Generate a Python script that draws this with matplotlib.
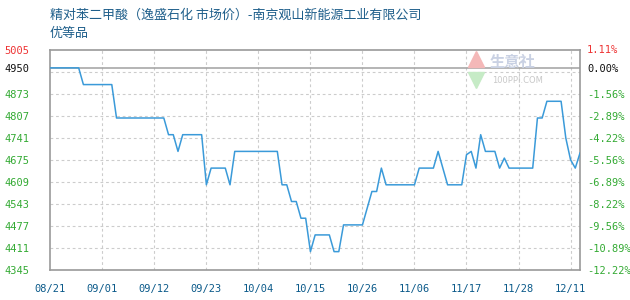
import matplotlib
matplotlib.use("Agg")
import matplotlib.pyplot as plt
import numpy as np

plt.rcParams['font.family'] = ['Noto Sans CJK SC', 'DejaVu Sans']

title_line1 = "精对苯二甲酸（逸盛石化 市场价）-南京观山新能源工业有限公司"
title_line2 = "优等品"

x_tick_labels = ["08/21", "09/01", "09/12", "09/23", "10/04", "10/15",
                 "10/26", "11/06", "11/17", "11/28", "12/11"]
x_tick_days = [0, 11, 22, 33, 44, 55, 66, 77, 88, 99, 110]

y_tick_values = [5005, 4950, 4873, 4807, 4741, 4675, 4609, 4543, 4477, 4411, 4345]
right_tick_labels = ["1.11%", "0.00%", "-1.56%", "-2.89%", "-4.22%", "-5.56%",
                     "-6.89%", "-8.22%", "-9.56%", "-10.89%", "-12.22%"]
base_value = 4950

prices = [4950, 4950, 4950, 4950, 4950, 4950, 4950,
          4900, 4900, 4900, 4900, 4900, 4900, 4900,
          4800, 4800, 4800, 4800, 4800, 4800, 4800, 4800, 4800, 4800, 4800,
          4750, 4750, 4700, 4750, 4750, 4750, 4750, 4750,
          4600, 4650, 4650, 4650, 4650, 4600,
          4700, 4700, 4700, 4700, 4700, 4700, 4700, 4700, 4700, 4700,
          4600, 4600, 4550, 4550, 4500, 4500, 4400,
          4450, 4450, 4450, 4450, 4400, 4400,
          4480, 4480, 4480, 4480, 4480, 4530, 4580, 4580, 4650,
          4600, 4600, 4600, 4600, 4600, 4600, 4600,
          4650, 4650, 4650, 4650, 4700, 4650,
          4600, 4600, 4600, 4600, 4690, 4700, 4650, 4750,
          4700, 4700, 4700, 4650, 4680,
          4650, 4650, 4650, 4650, 4650, 4650,
          4800, 4800, 4850, 4850, 4850, 4850,
          4740, 4675, 4650, 4695]
days = np.arange(len(prices))

fig = plt.figure(figsize=(6.3, 3.0), dpi=100)
ax = fig.add_axes([50.3/630, 1-270/300, (580-50.3)/630, (270-49.5)/300])

grid_color = '#cccccc'
ymin, ymax = y_tick_values[-1], y_tick_values[0]
step = y_tick_values[2] - y_tick_values[3]
for gv in np.arange(ymin + step, ymax, step):
    ax.axhline(gv, color=grid_color, lw=0.8, ls=(0, (2.5, 2.5)), zorder=1)
for xd in x_tick_days[1:]:
    ax.axvline(xd, color=grid_color, lw=0.8, ls=(0, (2.5, 2.5)), zorder=1)
ax.axhline(base_value, color='#a0a0a0', lw=1.1, zorder=1.5)

ax.plot(days, prices, color='#3a9ad9', lw=1.1, zorder=3)

ax.set_xlim(0, len(prices) - 1)
ax.set_ylim(ymin, ymax)

for s in ax.spines.values():
    s.set_color('#9a9a9a')
    s.set_linewidth(1.2)

ax.set_xticks(x_tick_days)
ax.set_xticklabels(x_tick_labels, family='DejaVu Sans Mono', fontsize=7.5, color='#0b5a8a')
ax.tick_params(axis='x', length=0, pad=10)

left_colors = ['#ee3333', '#111111'] + ['#33aa33'] * (len(y_tick_values) - 2)
ax.set_yticks(y_tick_values)
ax.set_yticklabels([str(v) for v in y_tick_values], family='DejaVu Sans Mono', fontsize=7.5)
for lbl, c in zip(ax.get_yticklabels(), left_colors):
    lbl.set_color(c)
ax.tick_params(axis='y', length=0, pad=15)

ax2 = ax.twinx()
ax2.set_ylim(ymin, ymax)
ax2.set_yticks(y_tick_values)
ax2.set_yticklabels(right_tick_labels, family='DejaVu Sans Mono', fontsize=7.5)
for lbl, c in zip(ax2.get_yticklabels(), left_colors):
    lbl.set_color(c)
ax2.tick_params(axis='y', length=0, pad=5)
for s in ax2.spines.values():
    s.set_visible(False)

# watermark
ax.text(0.873, 0.945, "生意社", transform=ax.transAxes, fontsize=11, color='#c9d1e3',
        ha='center', va='center', fontweight='bold', zorder=2)
ax.text(0.882, 0.858, "100PPI.COM", transform=ax.transAxes, fontsize=6, color='#c8c8c8',
        ha='center', va='center', family='DejaVu Sans', zorder=2)
ax.plot([0.803], [0.955], marker='^', ms=11, color='#f4b8b8', transform=ax.transAxes,
        clip_on=False, zorder=2)
ax.plot([0.803], [0.862], marker='v', ms=11, color='#c6ebc6', transform=ax.transAxes,
        clip_on=False, zorder=2)

fig.text(50/630, 1-15/300, title_line1, fontsize=9.4, color='#1f5f8b', va='center', ha='left')
fig.text(50/630, 1-33/300, title_line2, fontsize=9.4, color='#1f5f8b', va='center', ha='left')

fig.savefig('out.png', dpi=100)
